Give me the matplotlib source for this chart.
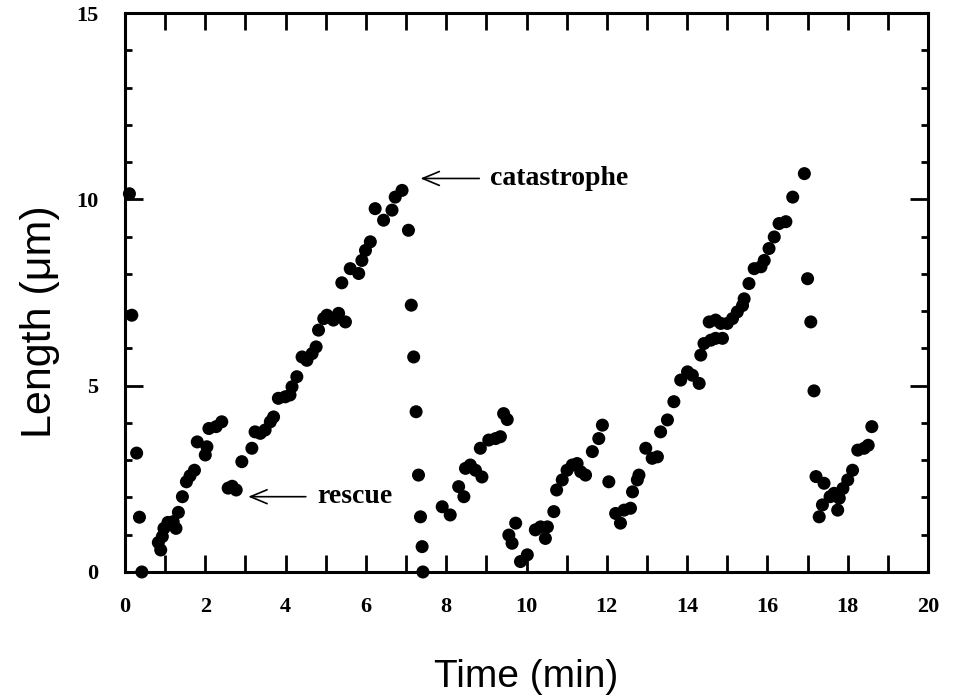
import matplotlib
matplotlib.use('Agg')
import matplotlib.pyplot as plt
from matplotlib.ticker import MultipleLocator

# Microtubule length vs time
time_min = [
    0.11, 0.17, 0.29, 0.36, 0.42,
    0.83, 0.89, 0.93, 0.97, 1.07, 1.20, 1.27, 1.33, 1.43, 1.53, 1.62, 1.73,
    1.80, 2.00, 2.04, 2.09, 2.27, 2.41,
    2.57, 2.67, 2.77,
    2.91, 3.16, 3.24, 3.37, 3.49, 3.62, 3.70, 3.82, 3.99, 4.11, 4.16, 4.28,
    4.41, 4.53, 4.66, 4.76, 4.82, 4.95, 5.03, 5.19, 5.32, 5.49, 5.40, 5.61,
    5.82, 5.90, 5.99, 6.11, 6.23, 6.44, 6.65, 6.73, 6.90,
    7.06, 7.13, 7.19, 7.25, 7.31, 7.36, 7.40, 7.42,
    7.90, 8.10, 8.31, 8.44, 8.48, 8.60, 8.73, 8.89, 8.85, 9.06, 9.23, 9.35,
    9.43, 9.52,
    9.56, 9.64, 9.73, 9.85, 10.02, 10.22, 10.35, 10.47, 10.52, 10.68, 10.75,
    10.89, 11.01, 11.14, 11.26, 11.35, 11.47, 11.64, 11.80, 11.89,
    12.05, 12.22, 12.34, 12.43, 12.59, 12.64, 12.76, 12.80, 12.97, 13.13,
    13.26, 13.34, 13.51, 13.67, 13.84, 14.01, 14.13, 14.30, 14.34, 14.42,
    14.59, 14.71, 14.88, 14.55, 14.71, 14.84, 15.00, 15.13, 15.25, 15.38,
    15.42, 15.54, 15.67, 15.84, 15.92, 16.04, 16.17, 16.29, 16.46, 16.63,
    16.92,
    17.00, 17.08, 17.16,
    17.21, 17.29, 17.37, 17.41, 17.56, 17.66, 17.75, 17.79, 17.88, 18.00,
    18.12, 18.25, 18.41, 18.51, 18.60,
]
length_um = [
    10.15, 6.89, 3.19, 1.47, 0.00,
    0.79, 0.59, 0.95, 1.17, 1.33, 1.35, 1.17, 1.60, 2.02, 2.42, 2.58, 2.73,
    3.49, 3.14, 3.36, 3.85, 3.90, 4.03,
    2.25, 2.30, 2.20,
    2.96, 3.32, 3.76, 3.72, 3.81, 4.03, 4.16, 4.66, 4.70, 4.75, 4.97, 5.24,
    5.77, 5.68, 5.86, 6.04, 6.49, 6.80, 6.89, 6.76, 6.94, 6.71, 7.76, 8.14,
    8.01, 8.36, 8.63, 8.86, 9.75, 9.44, 9.71, 10.06, 10.24,
    9.17, 7.16, 5.77, 4.30, 2.60, 1.48, 0.68, 0.00,
    1.75, 1.53, 2.29, 2.02, 2.78, 2.87, 2.73, 2.55, 3.32, 3.54, 3.58, 3.63,
    4.25, 4.09,
    0.99, 0.77, 1.31, 0.28, 0.46, 1.13, 1.21, 0.90, 1.21, 1.62, 2.20,
    2.47, 2.73, 2.87, 2.91, 2.69, 2.60, 3.23, 3.58, 3.94,
    2.42, 1.57, 1.31, 1.66, 1.71, 2.15, 2.47, 2.60, 3.32, 3.05,
    3.09, 3.76, 4.08, 4.57, 5.15, 5.37, 5.28, 5.06, 5.82, 6.13,
    6.22, 6.27, 6.27, 6.71, 6.76, 6.67, 6.67, 6.80, 6.98, 7.15,
    7.33, 7.74, 8.14, 8.19, 8.36, 8.68, 8.99, 9.35, 9.40, 10.06,
    10.69,
    7.87, 6.71, 4.86,
    2.56, 1.48, 1.80, 2.38, 2.02, 2.11, 1.66, 1.98, 2.24, 2.47,
    2.73, 3.27, 3.32, 3.40, 3.90,
]

x_ticks = [0, 2, 4, 6, 8, 10, 12, 14, 16, 18, 20]
y_ticks = [0, 5, 10, 15]

# event labels: (text, arrow tip x, arrow tip y, text x)
events = [
    ('catastrophe', 7.36, 10.56, 9.1),
    ('rescue', 3.07, 2.02, 4.78),
]

fig = plt.figure(figsize=(9.6, 7), dpi=100)
ax = fig.add_axes([0.1302, 0.1829, 0.8365, 0.7985])

ax.scatter(time_min, length_um, s=88, color='black', edgecolors='none',
           clip_on=False, zorder=3)

ax.set_xlim(0, 20)
ax.set_ylim(0, 15)
ax.set_xticks(x_ticks)
ax.set_yticks(y_ticks)
ax.xaxis.set_minor_locator(MultipleLocator(1))
ax.yaxis.set_minor_locator(MultipleLocator(1))

for s in ax.spines.values():
    s.set_linewidth(2.2)

ax.tick_params(axis='x', which='both', direction='in', length=12, width=2,
               top=True, bottom=True, pad=18)
ax.tick_params(axis='y', which='major', direction='in', length=13, width=2,
               left=True, right=True, pad=19)
ax.tick_params(axis='y', which='minor', direction='in', length=5, width=2,
               left=True, right=True)

for lab in ax.get_xticklabels() + ax.get_yticklabels():
    lab.set_fontfamily('Liberation Serif')
    lab.set_fontweight('bold')
    lab.set_fontsize(16)

for text, tx, ty, lx in events:
    ax.annotate(text, xy=(tx, ty), xytext=(lx, ty), ha='left', va='center',
                fontsize=20, fontweight='bold', family='Liberation Serif',
                arrowprops=dict(arrowstyle='->, head_length=0.6, head_width=0.25',
                                lw=1.2, color='black', shrinkA=6, shrinkB=0))

ax.set_xlabel('Time (min)', fontsize=28, family='Liberation Sans', labelpad=30)
ax.set_ylabel('Length (\u03bcm)', fontsize=31, family='Liberation Sans')
ax.yaxis.set_label_coords(-0.081, 0.447)

fig.savefig('out.png', dpi=100)
